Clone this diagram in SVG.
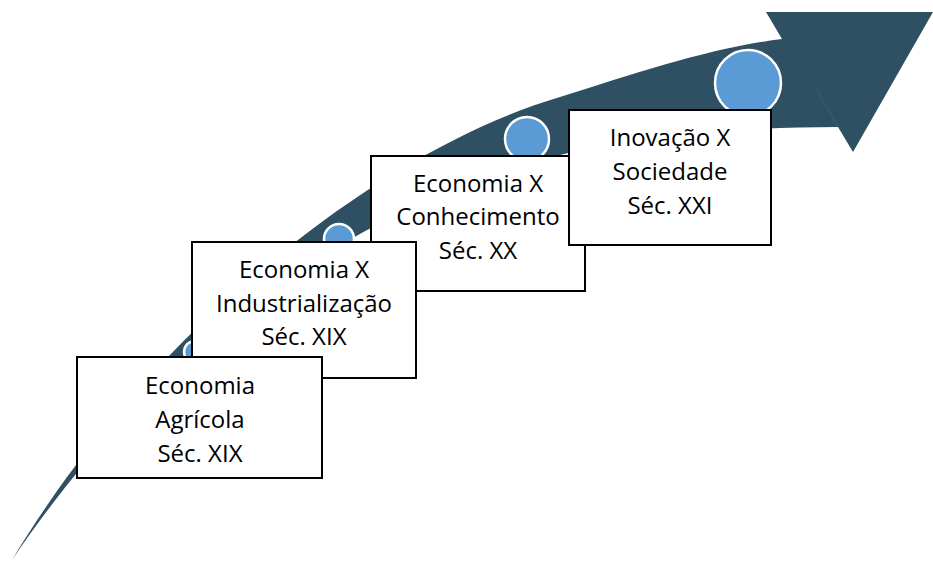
<svg xmlns="http://www.w3.org/2000/svg" width="933" height="561" viewBox="0 0 933 561">
<style>
.box{fill:#fff;stroke:#000;stroke-width:2}
.dot{fill:#5B9BD5;stroke:#fff;stroke-width:2.5}
text{font-family:"Open Sans","Liberation Sans",sans-serif;font-size:24px;fill:#000;text-anchor:middle}
</style>
<rect width="933" height="561" fill="#fff"/>
<g id="arrow">
<path d="M12,560 C150,330 380,150 560,97 C640,72 710,48 782,39 L766,12 L933,12 L853,152 L838,127 C720,128 640,135 560,155 C300,220 120,400 12,560 Z" fill="#2E5062"/>
<path d="M817,90 L838,127" stroke="#3A5E70" stroke-width="1" fill="none"/>
</g>
<g id="dots">
<circle class="dot" cx="195" cy="352" r="11"/>
<circle class="dot" cx="339" cy="239" r="15"/>
<circle class="dot" cx="527" cy="139" r="22"/>
<circle class="dot" cx="748" cy="83" r="33"/>
</g>
<g id="connectors"></g>
<g id="node3">
<rect class="box" x="371" y="156" width="214" height="135"/>
<text x="478" y="192">Economia X</text>
<text x="478" y="225">Conhecimento</text>
<text x="478" y="259">Séc. XX</text>
</g>
<g id="node4">
<rect class="box" x="569" y="110" width="202" height="135"/>
<text x="670" y="146">Inovação X</text>
<text x="670" y="180">Sociedade</text>
<text x="670" y="214">Séc. XXI</text>
</g>
<g id="node2">
<rect class="box" x="192" y="242" width="224" height="136"/>
<text x="304" y="278">Economia X</text>
<text x="304" y="312">Industrialização</text>
<text x="304" y="345">Séc. XIX</text>
</g>
<g id="node1">
<rect class="box" x="77" y="357" width="245" height="121"/>
<text x="200" y="394">Economia</text>
<text x="200" y="428">Agrícola</text>
<text x="200" y="462">Séc. XIX</text>
</g>
</svg>
